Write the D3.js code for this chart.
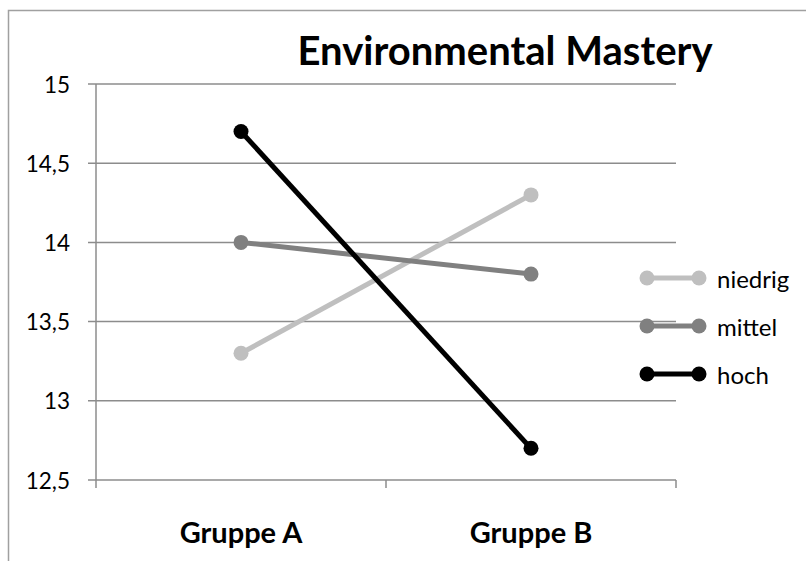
<!DOCTYPE html>
<html>
    <head>
        <meta charset="utf-8">
        <script src="https://cdn.jsdelivr.net/npm/d3@7"></script>
        <style>
            body { margin: 0; background: #fff; }
            svg { display: block; font-family: Lato, "Open Sans", sans-serif; }
        </style>
    </head>
    <body>
        <svg width="806" height="561"></svg>
    </body>
    <script>
        // data
        const categories = ["Gruppe A", "Gruppe B"];
        const seriesNames = ["niedrig", "mittel", "hoch"];
        const niedrig = [13.3, 14.3];
        const mittel = [14.0, 13.8];
        const hoch = [14.7, 12.7];
        const yTicks = [12.5, 13, 13.5, 14, 14.5, 15];
        const seriesColors = ["#bfbfbf", "#808080", "#000000"];

        const values = [niedrig, mittel, hoch];
        const svg = d3.select("svg");

        // outer frame (only top and left edges are visible)
        svg.append("rect")
            .attr("x", 8.5).attr("y", 10.5)
            .attr("width", 900).attr("height", 700)
            .attr("fill", "none")
            .attr("stroke", "#a0a0a0")
            .attr("stroke-width", 1.5);

        const plotLeft = 96, plotRight = 676, plotTop = 84, plotBottom = 480;

        const x = d3.scaleBand().domain(categories).range([plotLeft, plotRight]);
        const y = d3.scaleLinear().domain([12.5, 15]).range([plotBottom, plotTop]);
        const cx = c => x(c) + x.bandwidth() / 2;
        const fmt = v => String(v).replace(".", ",");

        // horizontal gridlines + y tick marks
        svg.append("g").selectAll("line")
            .data(yTicks)
            .join("line")
            .attr("x1", plotLeft - 8).attr("x2", plotRight)
            .attr("y1", d => y(d)).attr("y2", d => y(d))
            .attr("stroke", "#8c8c8c")
            .attr("stroke-width", 1.5);

        // y axis line
        svg.append("line")
            .attr("x1", plotLeft).attr("x2", plotLeft)
            .attr("y1", plotTop).attr("y2", plotBottom)
            .attr("stroke", "#8c8c8c")
            .attr("stroke-width", 1.5);

        // x tick marks at band edges
        const edges = categories.map(c => x(c)).concat([plotRight]);
        svg.append("g").selectAll("line")
            .data(edges)
            .join("line")
            .attr("x1", d => d).attr("x2", d => d)
            .attr("y1", plotBottom).attr("y2", plotBottom + 8)
            .attr("stroke", "#8c8c8c")
            .attr("stroke-width", 1.5);

        // y labels
        svg.append("g").selectAll("text")
            .data(yTicks)
            .join("text")
            .attr("x", 70)
            .attr("y", d => y(d))
            .attr("text-anchor", "end")
            .attr("dominant-baseline", "central")
            .attr("font-size", 22.5)
            .attr("fill", "#000")
            .text(fmt);

        // category labels
        svg.append("g").selectAll("text")
            .data(categories)
            .join("text")
            .attr("x", cx)
            .attr("y", 543)
            .attr("text-anchor", "middle")
            .attr("font-size", 29)
            .attr("font-weight", "bold")
            .text(d => d);

        // title
        svg.append("text")
            .attr("x", 505)
            .attr("y", 65)
            .attr("text-anchor", "middle")
            .attr("font-size", 40)
            .attr("font-weight", "bold")
            .text("Environmental Mastery");

        // series
        const line = d3.line()
            .x((d, i) => cx(categories[i]))
            .y(d => y(d));

        seriesNames.forEach((name, s) => {
            const g = svg.append("g");
            g.append("path")
                .datum(values[s])
                .attr("d", line)
                .attr("fill", "none")
                .attr("stroke", seriesColors[s])
                .attr("stroke-width", 5);
            g.selectAll("circle")
                .data(values[s])
                .join("circle")
                .attr("cx", (d, i) => cx(categories[i]))
                .attr("cy", d => y(d))
                .attr("r", 7.5)
                .attr("fill", seriesColors[s]);
        });

        // legend
        const legend = svg.append("g").selectAll("g")
            .data(seriesNames)
            .join("g")
            .attr("transform", (d, i) => `translate(647, ${278 + i * 48})`);
        legend.append("line")
            .attr("x1", 0).attr("x2", 52)
            .attr("stroke", (d, i) => seriesColors[i])
            .attr("stroke-width", 5);
        legend.selectAll("circle")
            .data((d, i) => [[0, seriesColors[i]], [52, seriesColors[i]]])
            .join("circle")
            .attr("cx", d => d[0])
            .attr("r", 7.5)
            .attr("fill", d => d[1]);
        legend.append("text")
            .attr("x", 70)
            .attr("dominant-baseline", "central")
            .attr("font-size", 24)
            .text(d => d);
    </script>
</html>
